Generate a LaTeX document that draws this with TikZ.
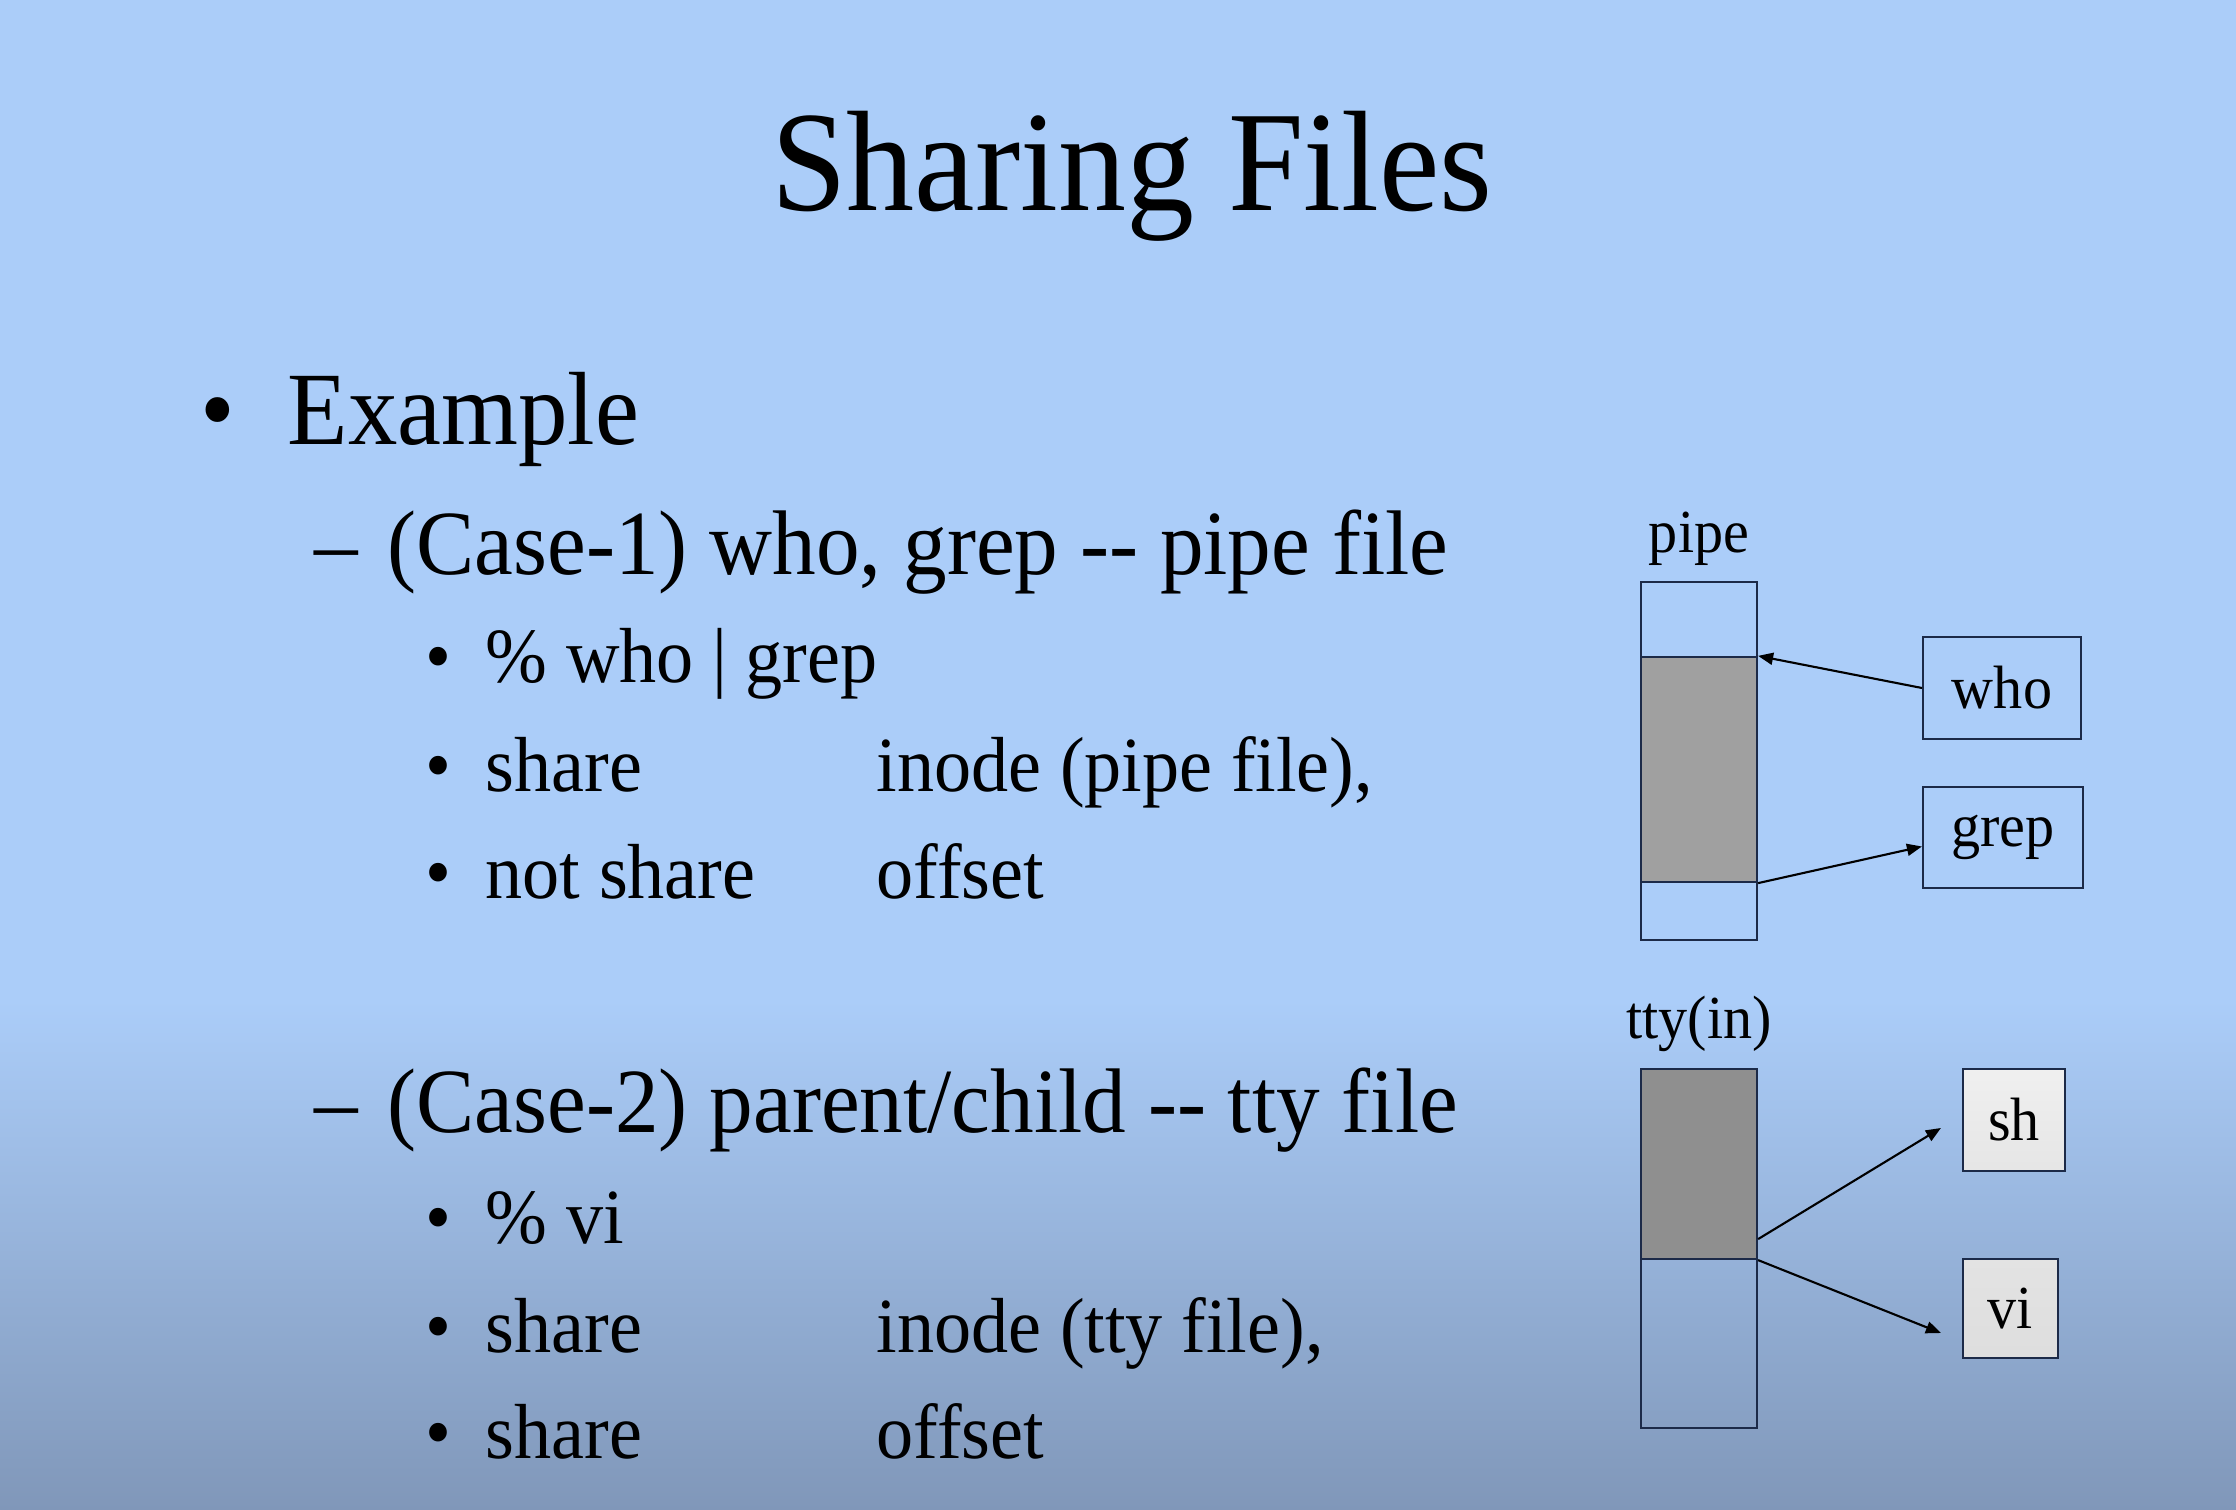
\documentclass[tikz,border=0pt]{standalone}
\usepackage{fontspec}
\setmainfont{Liberation Serif}[FakeStretch=0.95]
\usetikzlibrary{arrows.meta}
\definecolor{slidetop}{HTML}{ABCDF9}
\definecolor{slidebot}{HTML}{8097B9}
\definecolor{edge}{HTML}{1C2A48}
\definecolor{bufgray}{HTML}{A0A0A0}
\definecolor{bufdark}{HTML}{8F8F8F}
\providecommand\mypx{0.01cm}

\begin{document}
\begin{tikzpicture}[x=\mypx, y=-\mypx]
  \tikzstyle{heading} = [font=\fontsize{40.7}{44}\selectfont, anchor=base, inner sep=0]
  \tikzstyle{lvla} = [font=\fontsize{29.6}{32}\selectfont, anchor=base west, inner sep=0]
  \tikzstyle{lvlb} = [font=\fontsize{26.1}{28}\selectfont, anchor=base west, inner sep=0]
  \tikzstyle{lvlc} = [font=\fontsize{22.2}{24}\selectfont, anchor=base west, inner sep=0]
  \tikzstyle{store} = [rectangle, draw=edge, line width=0.6pt, minimum width=1.16cm, inner sep=0,
                                    label={[font=\fontsize{17.4}{19}\selectfont, inner sep=0, label distance=1.5mm]above:#1}]
  \tikzstyle{buf} = [rectangle, draw=edge, line width=0.6pt, minimum width=1.16cm, inner sep=0]
  \tikzstyle{proc} = [rectangle, draw=edge, line width=0.6pt, inner sep=0,
                                    font=\fontsize{17.4}{19}\selectfont]
  \tikzstyle{link} = [-{Triangle[length=1.5mm,width=1.2mm]}, line width=0.6pt]
% slide background
\fill[slidetop] (0,0) rectangle (2236,1001);
\shade[top color=slidetop, bottom color=slidebot] (0,1000) rectangle (2236,1510);
\useasboundingbox (0,0) rectangle (2236,1510);
% text
\node[heading](ttl) at (1132,211){Sharing Files};
\node[lvla](b0) at (200,445){\textbullet};
\node[lvla](ex) at (287,445){Example};
\node[lvlb](d1) at (314,575){--};
\node[lvlb](case1) at (387,575){(Case-1) who, grep -{}- pipe file};
\node[lvlb](d2) at (314,1133){--};
\node[lvlb](case2) at (387,1133){(Case-2) parent/child -{}- tty file};
\foreach \y in {683,792,899,1243,1352,1458}
  \node[lvlc](b\y) at (425,\y){\textbullet};
\node[lvlc](cmd1) at (485,683){\% who | grep};
\node[lvlc](sh1) at (485,792){share};
\node[lvlc](ino1) at (876,792){inode (pipe file),};
\node[lvlc](ns1) at (485,899){not share};
\node[lvlc](off1) at (876,899){offset};
\node[lvlc](cmd2) at (485,1243){\% vi};
\node[lvlc](sh2) at (485,1352){share};
\node[lvlc](ino2) at (876,1352){inode (tty file),};
\node[lvlc](sh3) at (485,1458){share};
\node[lvlc](off2) at (876,1458){offset};
% case 1: pipe
\node[store=pipe, minimum height=3.58cm](pipe) at (1699,761){};
\node[buf, fill=bufgray, minimum height=2.25cm](pipebuf) at (1699,769.5){};
\node[proc, minimum width=1.58cm, minimum height=1.02cm](who) at (2002,688){who};
\node[proc, minimum width=1.60cm, minimum height=1.01cm](grep) at (2003,837.5){grep};
\draw[link] (who.west) -- (pipebuf.north east);
\draw[link] (pipebuf.south east) -- ([yshift=-0.9mm]grep.west);
% case 2: tty
\node[store=tty(in), minimum height=3.59cm](tty) at (1699,1248.5){};
\node[buf, fill=bufdark, minimum height=1.90cm](ttybuf) at (1699,1164){};
\node[proc, shade, top color=gray!12, bottom color=gray!20, minimum width=1.02cm, minimum height=1.02cm](sh) at (2014,1120){sh};
\node[proc, shade, top color=gray!22, bottom color=gray!26, minimum width=0.95cm, minimum height=0.99cm](vi) at (2010.5,1308.5){vi};
\draw[link] ([yshift=2.1mm]ttybuf.south east) -- ([xshift=-2.1mm, yshift=-0.8mm]sh.west);
\draw[link] (ttybuf.south east) -- ([xshift=-2.1mm, yshift=-2.45mm]vi.west);
\end{tikzpicture}
\end{document}
